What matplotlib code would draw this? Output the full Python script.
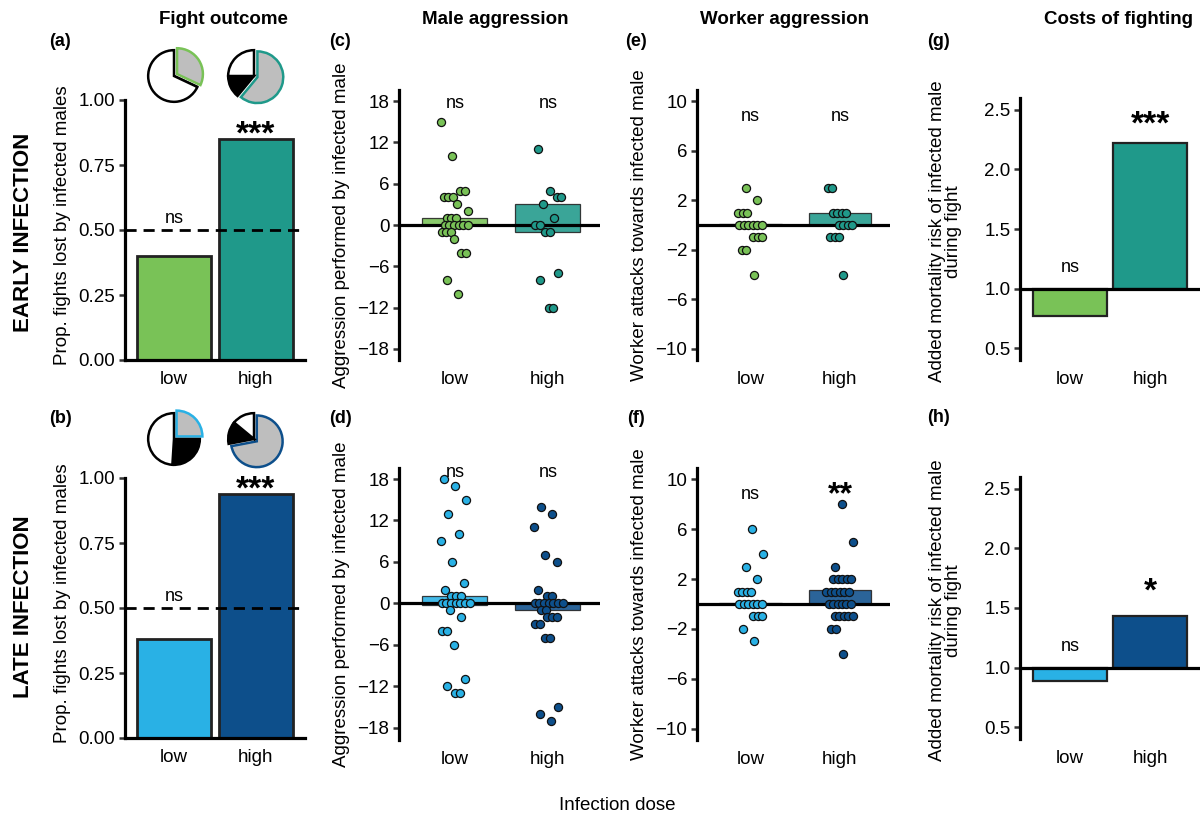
import numpy as np
import matplotlib.pyplot as plt

plt.rcParams['font.family'] = ['Liberation Sans', 'DejaVu Sans']

W, H = 1203, 816

doses = ['low', 'high']

# fight outcome (a, b)
lost_early = [0.40, 0.85]
lost_late = [0.38, 0.94]
# pie shares: grey, black, white
pie_early = [[0.32, 0.0, 0.68], [0.61, 0.14, 0.25]]
pie_late = [[0.25, 0.26, 0.49], [0.72, 0.14, 0.14]]

# male aggression (c, d)
male_early_low = [15, 10, 5, 5, 4, 4, 4, 3, 2, 1, 1, 1, 0, 0, 0, 0, 0, 0, -1, -1, -1, -2, -4, -4, -8, -10]
male_early_high = [11, 5, 4, 4, 3, 1, 0, 0, -1, -1, -7, -8, -12, -12]
male_late_low = [18, 17, 15, 13, 10, 9, 6, 3, 2, 1, 1, 1, 0, 0, 0, 0, 0, 0, 0,
                 -1, -2, -4, -4, -6, -11, -12, -13, -13]
male_late_high = [14, 13, 11, 7, 6, 2, 1, 1, 0, 0, 0, 0, 0, 0, 0, -1, -1, -2, -2, -2,
                  -3, -3, -5, -5, -15, -16, -17]
male_early_bars = [(0, 1), (-1, 3)]
male_late_bars = [(-0.2, 1), (-1, 0)]

# worker aggression (e, f)
worker_early_low = [3, 2, 1, 1, 1, 0, 0, 0, 0, 0, 0, -1, -1, -1, -2, -2, -4]
worker_early_high = [3, 3, 1, 1, 1, 1, 0, 0, 0, 0, -1, -1, -1, -4]
worker_late_low = [6, 4, 3, 2, 1, 1, 1, 1, 0, 0, 0, 0, 0, 0, -1, -1, -1, -2, -3]
worker_late_high = [8, 5, 3, 2, 2, 2, 2, 2, 1, 1, 1, 1, 1, 1, 0, 0, 0, 0, 0, 0,
                    -1, -1, -1, -1, -1, -2, -2, -4]
worker_early_bars = [(0, 0.1), (0, 1)]
worker_late_bars = [(0, 0.1), (0, 1.1)]

# costs of fighting (g, h)
mort_early = [0.77, 2.22]
mort_late = [0.89, 1.43]

green, teal = '#79c257', '#1f998a'
lblue, dblue = '#29b1e5', '#0d4f8b'
grey = '#bebebe'

TICK = 13.5
LAB = 13.5


def rect(l, t, r, b):
    return [l / W, 1 - b / H, (r - l) / W, (b - t) / H]


def style(ax, bottom=False):
    for s in ['top', 'right']:
        ax.spines[s].set_visible(False)
    ax.spines['bottom'].set_visible(bottom)
    ax.spines['left'].set_linewidth(2.3)
    ax.spines['bottom'].set_linewidth(2.3)
    ax.tick_params(axis='y', length=4, width=1.8, color='#333333', labelsize=TICK, pad=3)
    ax.tick_params(axis='x', length=0, labelsize=TICK, pad=8)
    ax.patch.set_visible(False)


def jitter(vals, step=0.05, spread=0.32):
    # equal values sit side by side, groups are shifted along a golden-ratio sequence
    vals = np.asarray(vals, float)
    off = np.zeros(len(vals))
    for k, v in enumerate(np.unique(vals)):
        idx = np.where(vals == v)[0]
        n = len(idx)
        room = max(spread - (n - 1) * step, 0)
        centre = (((k + 1) * 0.618) % 1 - 0.5) * room
        off[idx] = centre + (np.arange(n) - (n - 1) / 2) * step
    return off


def stars(ax, x, y, s, size=24):
    ax.annotate(s, (x, y), xytext=(0, -13), textcoords='offset points',
                ha='center', va='baseline', fontsize=size, fontweight='bold')


fig = plt.figure(figsize=(W / 100, H / 100), dpi=100)

# ---- fight outcome
for rc, vals, cols, pies, pcy, sig_y in [
        ((125, 100, 305, 360), lost_early, (green, teal), pie_early, 76, 0.90),
        ((125, 478, 305, 738), lost_late, (lblue, dblue), pie_late, 439, 0.99)]:
    ax = fig.add_axes(rect(*rc))
    style(ax, bottom=True)
    ax.bar([0, 1], vals, width=0.9, color=cols, edgecolor='#222222', linewidth=2)
    ax.axhline(0.5, color='black', lw=2, ls=(0, (4, 2.5)))
    ax.set_xlim(-0.6, 1.6)
    ax.set_ylim(0, 1.0)
    ax.set_yticks([0, 0.25, 0.5, 0.75, 1.0])
    ax.set_yticklabels(['0.00', '0.25', '0.50', '0.75', '1.00'])
    ax.set_xticks([0, 1])
    ax.set_xticklabels(doses)
    ax.set_ylabel('Prop. fights lost by infected males', fontsize=LAB)
    ax.yaxis.set_label_coords(-0.300, 0.52)
    ax.text(0, 0.545, 'ns', ha='center', va='center', fontsize=13)
    stars(ax, 1, sig_y, '***')
    for cx, share, col in zip([174, 254], pies, cols):
        size = 62
        pax = fig.add_axes([(cx - size / 2) / W, 1 - (pcy + size / 2) / H, size / W, size / H])
        wedges, _ = pax.pie(share, colors=[grey, 'black', 'white'], startangle=90,
                            counterclock=False, explode=[0.14, 0, 0],
                            wedgeprops=dict(linewidth=1.8, edgecolor='black'))
        wedges[0].set_edgecolor(col)
        pax.set_xlim(-1.2, 1.2)
        pax.set_ylim(-1.2, 1.2)
        pax.set_aspect('equal')
        pax.axis('off')


# ---- aggression panels
def dots_panel(rc, low, high, bars, cols, ylim, ticks, ylabel, lx):
    ax = fig.add_axes(rect(*rc))
    style(ax)
    for i, (pts, (b0, b1), col) in enumerate(zip([low, high], bars, cols)):
        ax.bar(i, b1 - b0, bottom=b0, width=0.7, color=col, alpha=0.88,
               edgecolor='#222222', linewidth=0.9, zorder=1)
        ax.scatter(i + jitter(pts), pts, s=34, color=col, edgecolor='#111111',
                   linewidth=0.9, zorder=3)
    ax.axhline(0, color='black', lw=2.3, zorder=2)
    ax.set_xlim(-0.6, 1.56)
    ax.set_ylim(*ylim)
    ax.set_yticks(ticks)
    ax.set_xticks([0, 1])
    ax.set_xticklabels(doses)
    ax.set_ylabel(ylabel, fontsize=LAB)
    ax.yaxis.set_label_coords(lx, 0.5)
    return ax


male_ticks = [-18, -12, -6, 0, 6, 12, 18]
worker_ticks = [-10, -6, -2, 2, 6, 10]
lab_c = 'Aggression performed by infected male'
lab_e = 'Worker attacks towards infected male'

ax_c = dots_panel((399, 90, 600, 360), male_early_low, male_early_high, male_early_bars,
                  (green, teal), (-19.6, 19.6), male_ticks, lab_c, -0.245)
ax_d = dots_panel((399, 468, 600, 740), male_late_low, male_late_high, male_late_bars,
                  (lblue, dblue), (-19.8, 19.6), male_ticks, lab_c, -0.245)
ax_e = dots_panel((697, 90, 890, 360), worker_early_low, worker_early_high, worker_early_bars,
                  (green, teal), (-10.9, 10.9), worker_ticks, lab_e, -0.255)
ax_f = dots_panel((697, 468, 890, 740), worker_late_low, worker_late_high, worker_late_bars,
                  (lblue, dblue), (-10.9, 10.9), worker_ticks, lab_e, -0.255)

for i in [0, 1]:
    ax_c.text(i, 17.7, 'ns', ha='center', va='center', fontsize=13)
    ax_d.text(i, 19.0, 'ns', ha='center', va='center', fontsize=13)
    ax_e.text(i, 8.8, 'ns', ha='center', va='center', fontsize=13)
ax_f.text(0, 8.8, 'ns', ha='center', va='center', fontsize=13)
stars(ax_f, 1, 9.5, '**', size=23)

# ---- costs of fighting
for rc, vals, cols, sig, sig_y in [
        ((1020, 98, 1200, 360), mort_early, (green, teal), '***', 2.45),
        ((1020, 477, 1200, 739), mort_late, (lblue, dblue), '*', 1.71)]:
    ax = fig.add_axes(rect(*rc))
    style(ax)
    ax.bar([0, 1], [v - 1 for v in vals], bottom=1, width=0.92, color=cols,
           edgecolor='#222222', linewidth=1.6, zorder=1)
    ax.axhline(1, color='black', lw=2.3, zorder=2)
    ax.set_xlim(-0.62, 1.62)
    ax.set_ylim(0.4, 2.6)
    ax.set_yticks([0.5, 1.0, 1.5, 2.0, 2.5])
    ax.set_xticks([0, 1])
    ax.set_xticklabels(doses)
    ax.set_ylabel('Added mortality risk of infected male\nduring fight', fontsize=LAB,
                  linespacing=0.95)
    ax.yaxis.set_label_coords(-0.32, 0.49)
    ax.text(0, 1.18, 'ns', ha='center', va='center', fontsize=13)
    stars(ax, 1, sig_y, sig)

# ---- figure texts
for x, t in [(223, 'Fight outcome'), (495, 'Male aggression'),
             (785, 'Worker aggression'), (1118, 'Costs of fighting')]:
    fig.text(x / W, 1 - 19 / H, t, ha='center', va='center', fontsize=13.5, fontweight='bold')
for x, y, t in [(60, 42, '(a)'), (60, 419, '(b)'), (340, 42, '(c)'), (340, 419, '(d)'),
                (636, 42, '(e)'), (636, 419, '(f)'), (938, 42, '(g)'), (938, 418, '(h)')]:
    fig.text(x / W, 1 - y / H, t, ha='center', va='center', fontsize=13, fontweight='bold')
fig.text(24 / W, 1 - 232 / H, 'EARLY INFECTION', rotation=90, ha='center', va='center',
         fontsize=16, fontweight='bold')
fig.text(24 / W, 1 - 607 / H, 'LATE INFECTION', rotation=90, ha='center', va='center',
         fontsize=16, fontweight='bold')
fig.text(617 / W, 1 - 805 / H, 'Infection dose', ha='center', va='center', fontsize=13.5)

fig.savefig('out.png', dpi=100)
